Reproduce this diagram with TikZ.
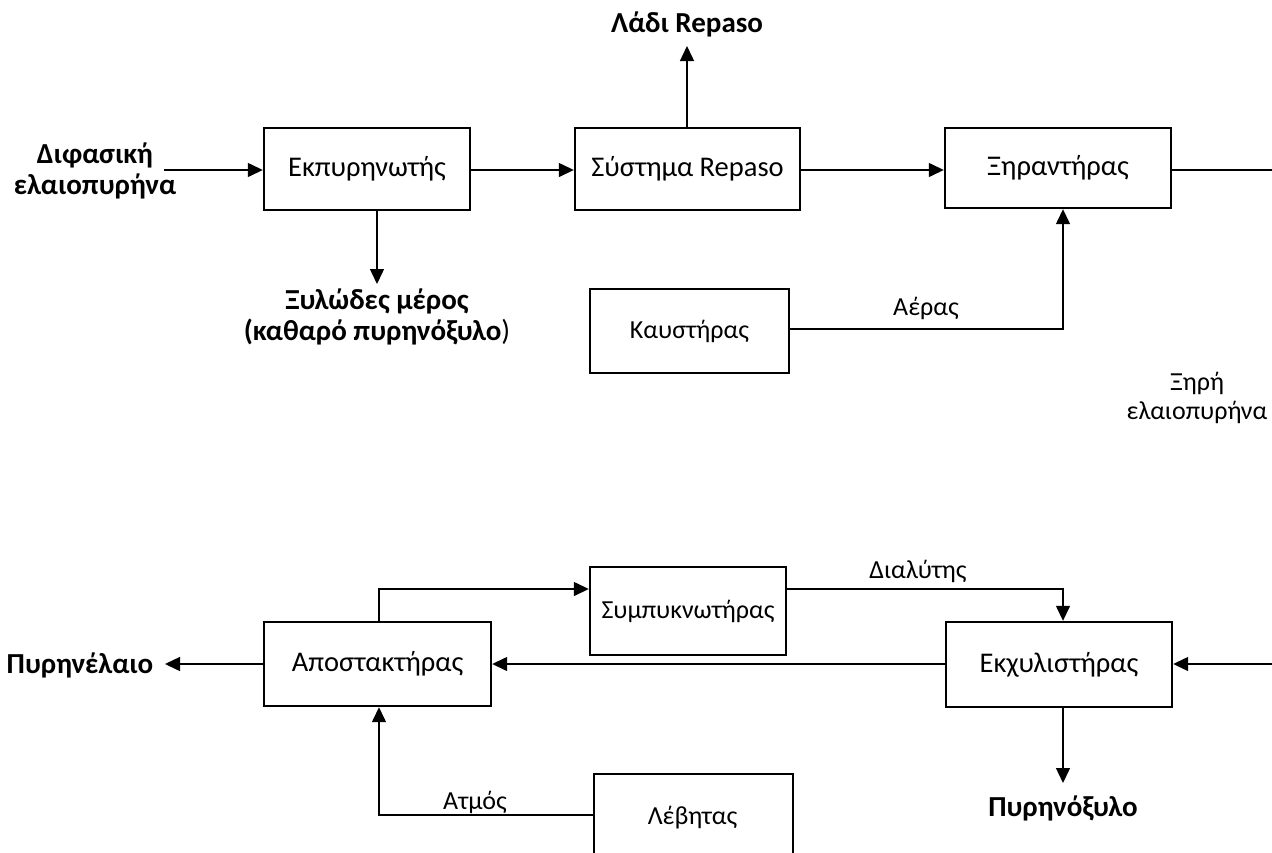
\documentclass[tikz,border=0pt]{standalone}
\usepackage{fontspec}
\setmainfont{Carlito}
\usetikzlibrary{arrows.meta}
\begin{document}
\begin{tikzpicture}[x=1pt,y=-1pt,
  proc/.style={draw, line width=2.4pt, fill=white, inner sep=0pt, font=\fontsize{28.5}{32}\selectfont},
  sproc/.style={draw, line width=2.4pt, fill=white, inner sep=0pt, font=\fontsize{26}{30}\selectfont},
  conn/.style={line width=1.4pt, -{Triangle[length=15pt,width=14pt]}},
  plain/.style={line width=1.4pt},
  outlbl/.style={inner sep=0pt, align=center, font=\bfseries\fontsize{29}{31}\selectfont},
  edgelbl/.style={inner sep=0pt, align=center, font=\fontsize{26}{29}\selectfont}]
\useasboundingbox (0,0) rectangle (1272,852);

% process boxes
\node[proc, minimum width=206pt, minimum height=82pt] (ekp) at (367,169) {Εκπυρηνωτής};
\node[proc, minimum width=225pt, minimum height=82pt] (rep) at (687.5,169) {Σύστημα Repaso};
\node[proc, minimum width=226pt, minimum height=80pt] (xir) at (1058,168) {Ξηραντήρας};
\node[sproc, minimum width=199pt, minimum height=84pt] (kaf) at (689.5,331) {Καυστήρας};
\node[sproc, minimum width=196pt, minimum height=88pt] (sym) at (688,611) {Συμπυκνωτήρας};
\node[proc, minimum width=227pt, minimum height=84pt] (apo) at (377.5,664) {Αποστακτήρας};
\node[proc, minimum width=226pt, minimum height=85pt] (ekx) at (1059,664.5) {Εκχυλιστήρας};
\node[sproc, minimum width=199pt, minimum height=96pt, anchor=north west] (leb) at (593,773) {};
\node[sproc, draw=none, fill=none] (lebtxt) at (692.5,818) {Λέβητας};

% free labels
\node[outlbl] (in) at (95,171) {Διφασική\\ελαιοπυρήνα};
\node[outlbl] (ladi) at (687,24) {Λάδι Repaso};
\node[outlbl] (xyl) at (377,317) {Ξυλώδες μέρος\\(καθαρό πυρηνόξυλο{\mdseries)}};
\node[edgelbl] (dry) at (1197,398) {Ξηρή\\ελαιοπυρήνα};
\node[outlbl] (oil) at (80,665) {Πυρηνέλαιο};
\node[outlbl] (pyx) at (1063,808) {Πυρηνόξυλο};

% coordinates
\coordinate (inS) at (164,170);
\coordinate (ladiT) at (687,46);
\coordinate (xylT) at (377,284);
\coordinate (xirR) at (1272,170);
\coordinate (ekxR) at (1272,664);
\coordinate (oilT) at (165,664);
\coordinate (pyxT) at (1063,783);

% connectors
\draw[conn] (inS) -- (ekp.west |- inS);
\draw[conn] (ekp.east |- inS) -- (rep.west |- inS);
\draw[conn] (rep.north -| ladiT) -- (ladiT);
\draw[conn] (ekp.south -| xylT) -- (xylT);
\draw[conn] (rep.east |- inS) -- (xir.west |- inS);
\draw[plain] (xir.east |- xirR) -- (xirR);
\draw[conn] (kaf.east |- 0,329) -- (1063,329) -- (xir.south -| 1063,0);
\node[edgelbl] (aer) at (926,308) {Αέρας};
\draw[conn] (ekxR) -- (ekx.east |- ekxR);
\draw[conn] (ekx.west |- ekxR) -- (apo.east |- ekxR);
\draw[conn] (apo.west |- oilT) -- (oilT);
\draw[conn] (apo.north -| 379,0) -- (379,589) -- (sym.west |- 0,589);
\draw[conn] (sym.east |- 0,589) -- (1063,589) -- (ekx.north -| 1063,0);
\node[edgelbl] (dial) at (918,571) {Διαλύτης};
\draw[conn] (leb.west |- 0,815) -- (379,815) -- (apo.south -| 379,0);
\node[edgelbl] (atm) at (475,802) {Ατμός};
\draw[conn] (ekx.south -| pyxT) -- (pyxT);
\end{tikzpicture}
\end{document}
